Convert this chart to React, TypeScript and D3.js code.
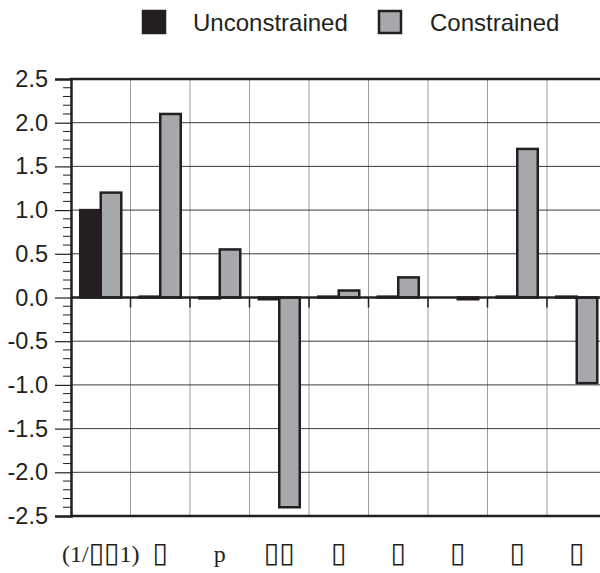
import React, { useEffect, useRef } from 'react';
import * as d3 from 'd3';

const categories = ['(1/\u25AF\u25AF1)', '\u25AF', 'p', '\u25AF\u25AF', '\u25AF', '\u25AF', '\u25AF', '\u25AF', '\u25AF'];
const unconstrained = [1.0, 0.01, -0.01, -0.02, 0.01, 0.01, 0.0, 0.01, 0.01];
const constrained = [1.2, 2.1, 0.55, -2.4, 0.08, 0.23, -0.02, 1.7, -0.98];
const seriesNames = ['Unconstrained', 'Constrained'];
const yTicks = [-2.5, -2.0, -1.5, -1.0, -0.5, 0.0, 0.5, 1.0, 1.5, 2.0, 2.5];

const colors = ['#231f20', '#a7a8ab'];

const App = () => {
    const svgRef = useRef(null);
    const width = 600;
    const height = 573;

    useEffect(() => {
        const svg = d3.select(svgRef.current);
        svg.selectAll('*').remove();

        const left = 71, right = 606.5, top = 79, bottom = 516;

        const x = d3.scaleBand().domain(categories.map((c, i) => String(i))).range([left, right]).padding(0);
        const y = d3.scaleLinear().domain([-2.5, 2.5]).range([bottom, top]);
        const inner = d3.scaleBand().domain(['0', '1']).range([0, x.bandwidth()]).paddingInner(0).paddingOuter(0.45);

        const g = svg.append('g');

        // vertical grid
        categories.forEach((c, i) => {
            if (i === 0) return;
            const xx = x(String(i));
            g.append('line').attr('x1', xx).attr('x2', xx).attr('y1', top).attr('y2', bottom)
                .attr('stroke', '#9d9d9d').attr('stroke-width', 1);
        });
        // horizontal grid
        yTicks.forEach(t => {
            g.append('line').attr('x1', left).attr('x2', right).attr('y1', y(t)).attr('y2', y(t))
                .attr('stroke', '#3a3a3a').attr('stroke-width', 1);
        });

        // bars
        const series = [unconstrained, constrained];
        series.forEach((vals, s) => {
            g.selectAll('.bar' + s)
                .data(vals)
                .join('rect')
                .attr('x', (d, i) => x(String(i)) + inner(String(s)))
                .attr('width', inner.bandwidth())
                .attr('y', d => Math.min(y(d), y(0)))
                .attr('height', d => Math.abs(y(d) - y(0)))
                .attr('fill', colors[s])
                .attr('stroke', '#231f20')
                .attr('stroke-width', 2.5);
        });

        // zero line and x ticks
        g.append('line').attr('x1', left).attr('x2', right).attr('y1', y(0)).attr('y2', y(0))
            .attr('stroke', '#231f20').attr('stroke-width', 2.5);
        categories.forEach((c, i) => {
            if (i === 0) return;
            const xx = x(String(i));
            g.append('line').attr('x1', xx).attr('x2', xx).attr('y1', y(0)).attr('y2', y(0) + 10)
                .attr('stroke', '#231f20').attr('stroke-width', 1.5);
        });

        // frame top / bottom
        [top, bottom].forEach(yy => {
            g.append('line').attr('x1', left - 1).attr('x2', right).attr('y1', yy).attr('y2', yy)
                .attr('stroke', '#231f20').attr('stroke-width', 2.5);
        });

        // y axis
        const yAxis = d3.axisLeft(y).tickValues(yTicks).tickSize(16).tickFormat(d3.format('.1f'));
        const ya = svg.append('g').attr('transform', `translate(${left},0)`).call(yAxis);
        ya.select('.domain').attr('stroke', '#231f20').attr('stroke-width', 2.5);
        ya.selectAll('.tick line').attr('stroke', '#231f20').attr('stroke-width', 1.2);
        ya.selectAll('.tick text')
            .attr('font-family', 'Liberation Sans, Arial, sans-serif')
            .attr('font-size', 23.5)
            .attr('fill', '#231f20')
            .attr('x', -23)
            .text(d => (d < 0 ? '-' : '') + d3.format('.1f')(Math.abs(d)));

        const minor = d3.range(-25, 26).filter(v => v % 5 !== 0).map(v => v / 10);
        svg.append('g').selectAll('line').data(minor).join('line')
            .attr('x1', left - 8).attr('x2', left).attr('y1', d => y(d)).attr('y2', d => y(d))
            .attr('stroke', '#231f20').attr('stroke-width', 1);

        // x labels (box glyphs drawn a bit larger, like the missing-glyph boxes)
        const labels = svg.append('g').selectAll('text').data(categories).join('text')
            .attr('x', (d, i) => x(String(i)) + x.bandwidth() / 2)
            .attr('y', 562)
            .attr('text-anchor', 'middle')
            .attr('font-family', 'Liberation Serif, Times New Roman, serif')
            .attr('font-size', 24)
            .attr('fill', '#231f20');
        labels.each(function (d) {
            const t = d3.select(this);
            Array.from(d).forEach(ch => {
                const ts = t.append('tspan').text(ch);
                if (ch === '\u25AF') ts.attr('font-family', 'DejaVu Sans').attr('font-size', 28);
            });
        });

        // legend
        const legendX = [142, 378];
        const legendTextX = [193, 430];
        seriesNames.forEach((name, s) => {
            svg.append('rect').attr('x', legendX[s] + 1).attr('y', 11).attr('width', 22).attr('height', 22)
                .attr('fill', colors[s]).attr('stroke', '#231f20').attr('stroke-width', 2.5);
            svg.append('text').attr('x', legendTextX[s]).attr('y', 31)
                .attr('font-family', 'Liberation Sans, Arial, sans-serif')
                .attr('font-size', 24).attr('fill', '#231f20').text(name);
        });
    }, []);

    return (
        <svg ref={svgRef} width={width} height={height}
             style={{ position: 'absolute', left: 0, top: 0, background: '#fff' }}>
        </svg>
    );
};

export default App;
